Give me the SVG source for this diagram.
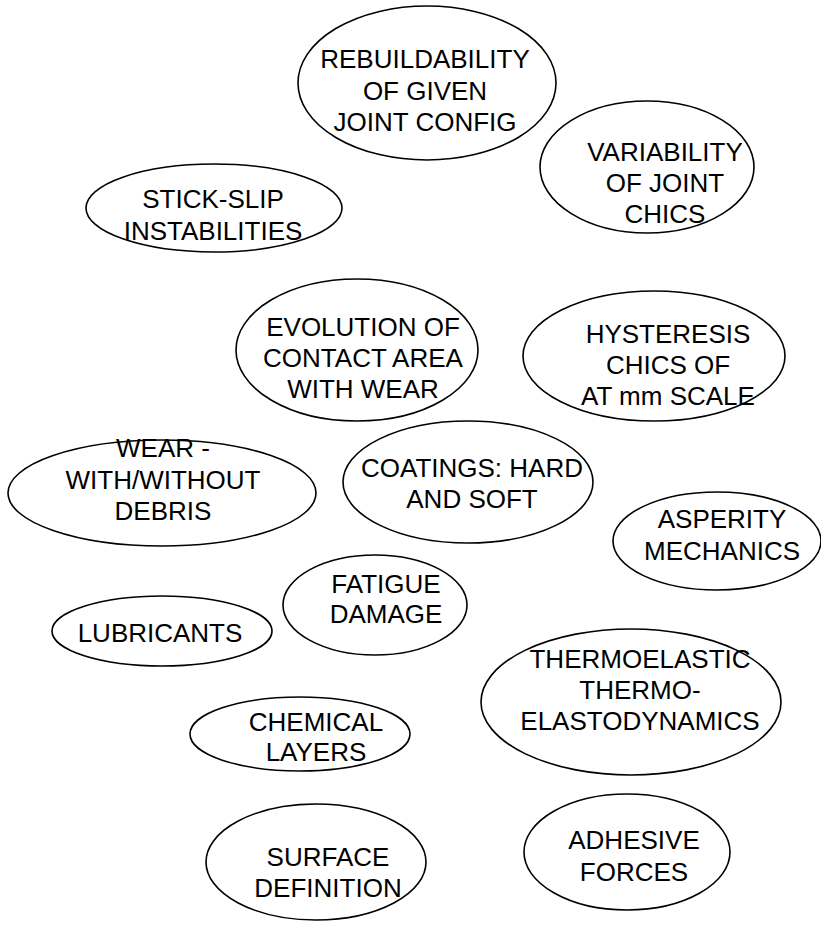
<svg xmlns="http://www.w3.org/2000/svg" width="821" height="934" viewBox="0 0 821 934">
<style>
ellipse{fill:#fff;stroke:#000;stroke-width:1.6}
text{font-family:"Liberation Sans",Arial,sans-serif;font-size:26px;fill:#000;text-anchor:middle}
</style>
<rect width="821" height="934" fill="#fff"/>
<g id="connectors"/>
<g id="rebuildability"><ellipse cx="427" cy="83" rx="129" ry="77"/><text x="425" y="68">REBUILDABILITY</text><text x="425" y="100">OF GIVEN</text><text x="425" y="131">JOINT CONFIG</text></g>
<g id="variability"><ellipse cx="647" cy="167" rx="107" ry="66"/><text x="665" y="161">VARIABILITY</text><text x="665" y="192">OF JOINT</text><text x="665" y="223">CHICS</text></g>
<g id="stickslip"><ellipse cx="214" cy="208" rx="128" ry="44"/><text x="213" y="208">STICK-SLIP</text><text x="213" y="240">INSTABILITIES</text></g>
<g id="evolution"><ellipse cx="357" cy="350" rx="121" ry="71"/><text x="363" y="336">EVOLUTION OF</text><text x="363" y="367">CONTACT AREA</text><text x="363" y="398">WITH WEAR</text></g>
<g id="hysteresis"><ellipse cx="654" cy="356" rx="131" ry="65"/><text x="668" y="343">HYSTERESIS</text><text x="668" y="374">CHICS OF</text><text x="668" y="405">AT mm SCALE</text></g>
<g id="wear"><ellipse cx="162" cy="493" rx="154" ry="53"/><text x="163" y="457">WEAR -</text><text x="163" y="489">WITH/WITHOUT</text><text x="163" y="520">DEBRIS</text></g>
<g id="coatings"><ellipse cx="468" cy="482" rx="125" ry="61"/><text x="472" y="477">COATINGS: HARD</text><text x="472" y="508">AND SOFT</text></g>
<g id="asperity"><ellipse cx="717" cy="541" rx="104" ry="49"/><text x="722" y="528">ASPERITY</text><text x="722" y="560">MECHANICS</text></g>
<g id="fatigue"><ellipse cx="375" cy="605" rx="92" ry="50"/><text x="386" y="593">FATIGUE</text><text x="386" y="623">DAMAGE</text></g>
<g id="lubricants"><ellipse cx="162" cy="631" rx="110" ry="35"/><text x="160" y="642">LUBRICANTS</text></g>
<g id="thermoelastic"><ellipse cx="631" cy="702" rx="150" ry="73"/><text x="640" y="668">THERMOELASTIC</text><text x="640" y="699">THERMO-</text><text x="640" y="730">ELASTODYNAMICS</text></g>
<g id="chemical"><ellipse cx="300" cy="734" rx="110" ry="37"/><text x="316" y="731">CHEMICAL</text><text x="316" y="761">LAYERS</text></g>
<g id="surface"><ellipse cx="316" cy="862" rx="110" ry="58"/><text x="328" y="866">SURFACE</text><text x="328" y="897">DEFINITION</text></g>
<g id="adhesive"><ellipse cx="627" cy="852" rx="103" ry="58"/><text x="634" y="849">ADHESIVE</text><text x="634" y="881">FORCES</text></g>
</svg>
